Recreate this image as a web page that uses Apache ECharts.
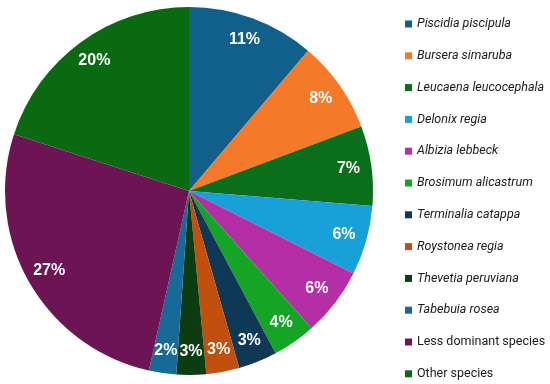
<!DOCTYPE html>
<html><head><meta charset="utf-8">
<script src="https://cdn.jsdelivr.net/npm/echarts@6/dist/echarts.min.js"></script>
<style>html,body{margin:0;padding:0;background:#fff;}#c{width:550px;height:384px;}</style>
</head><body><div id="c"></div>
<script>
var categories = ['Piscidia piscipula','Bursera simaruba','Leucaena leucocephala','Delonix regia','Albizia lebbeck','Brosimum alicastrum','Terminalia catappa','Roystonea regia','Thevetia peruviana','Tabebuia rosea','Less dominant species','Other species'];
var values = [11.2, 8.1, 7.0, 6.1, 6.0, 3.8, 3.4, 2.9, 2.6, 2.4, 26.5, 20.0];
var colors = ['#11608C','#F47A2A','#0A6E1A','#18A0D8','#B42FA6','#14A525','#0D3856','#C24F0C','#0B3D10','#176A98','#6D1454','#0A6A12'];
var italicNames = categories.slice(0, 10);

var chart = echarts.init(document.getElementById('c'));
var data = categories.map(function(n, i){ return {name: n, value: values[i], itemStyle: {color: colors[i]}}; });
var labelData = categories.map(function(n, i){ return {name: n, value: values[i]}; });
var FONT = 'Roboto';
chart.setOption({
  animation: false,
  legend: {
    orient: 'vertical', left: 405, top: 16, padding: 0, height: 368,
    itemWidth: 7, itemHeight: 7, itemGap: 15.8,
    icon: 'rect',
    data: categories,
    formatter: function(n){ return italicNames.indexOf(n) >= 0 ? '{i|' + n + '}' : '{n|' + n + '}'; },
    textStyle: {
      color: '#1a1a1a', fontSize: 12.5, fontFamily: FONT, lineHeight: 16,
      rich: {
        i: {fontStyle: 'italic', fontSize: 12.5, fontFamily: FONT, color: '#1a1a1a', lineHeight: 16},
        n: {fontSize: 12.5, fontFamily: FONT, color: '#1a1a1a', lineHeight: 16}
      }
    }
  },
  series: [{
    type: 'pie', center: [189, 191], radius: [0, 184], startAngle: 90, clockwise: true,
    label: {show: false}, labelLine: {show: false}, silent: true,
    itemStyle: {borderWidth: 0},
    data: data
  }, {
    type: 'pie', center: [189, 191], radius: [132, 184], startAngle: 90, clockwise: true,
    silent: true, legendHoverLink: false,
    itemStyle: {color: 'rgba(0,0,0,0)', borderWidth: 0},
    labelLine: {show: false},
    label: {
      show: true, position: 'inside', color: '#fff', fontWeight: 'bold', fontSize: 16,
      fontFamily: 'Liberation Sans',
      formatter: function(p){ return Math.round(p.value) + '%'; }
    },
    data: labelData
  }]
});
</script></body></html>
